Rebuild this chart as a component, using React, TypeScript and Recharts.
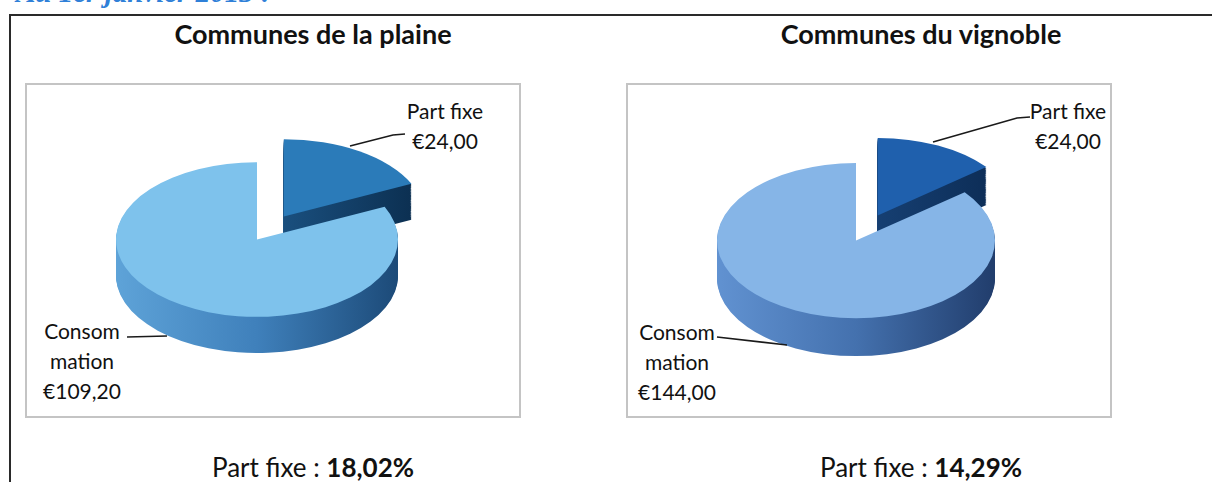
import React from "react";
import { PieChart, Pie, Cell } from "recharts";

// Slice names and values
const sliceNames = ["Part fixe", "Consommation"];
const plaineValues = [24.0, 109.2];
const vignobleValues = [24.0, 144.0];

// Labels as they wrap in the picture
const plaineLabelLines = [["Part fixe"], ["Consom", "mation"]];
const vignobleLabelLines = [["Part fixe"], ["Consom", "mation"]];

const chartTitles = ["Communes de la plaine", "Communes du vignoble"];

const FONT = "Lato, 'Open Sans', sans-serif";

const euro = (v: number) => "€" + v.toFixed(2).replace(".", ",");
const pct = (v: number) => (v * 100).toFixed(2).replace(".", ",") + "%";

type ChartCfg = {
  id: string;
  title: string;
  values: number[];
  labelLines: string[][];
  topColors: string[];
  sideGrads: string[][];
  boxLeft: number;
  boxWidth: number;
  textCentre: number;
  cxS: number; // screen centre of top face
  cyS: number;
  radius: number;
  squash: number;
  thickness: number; // screen px
  explode: number; // unscaled px
  pfLabel: { cx: number; top: number };
  coLabel: { cx: number; top: number };
  pfLine: string;
  coLine: string;
};

const charts: ChartCfg[] = [
  {
    id: "plaine",
    title: chartTitles[0],
    values: plaineValues,
    labelLines: plaineLabelLines,
    topColors: ["#2b7bb9", "#7ec2ec"],
    sideGrads: [
      ["#1a4f7e", "#0c3052"],
      ["#5ea3d8", "#3f80bb", "#1c4a78"],
    ],
    boxLeft: 25,
    boxWidth: 496,
    textCentre: 313,
    cxS: 257,
    cyS: 240,
    radius: 141,
    squash: 0.548,
    thickness: 36,
    explode: 50,
    pfLabel: { cx: 445, top: 96 },
    coLabel: { cx: 82, top: 316 },
    pfLine: "405,134 393,135 350,146",
    coLine: "127,337 167,336",
  },
  {
    id: "vignoble",
    title: chartTitles[1],
    values: vignobleValues,
    labelLines: vignobleLabelLines,
    topColors: ["#1f60ad", "#86b5e7"],
    sideGrads: [
      ["#163f72", "#0d2e58"],
      ["#6192d1", "#4471ae", "#213d6c"],
    ],
    boxLeft: 626,
    boxWidth: 486,
    textCentre: 921,
    cxS: 856,
    cyS: 241,
    radius: 139,
    squash: 0.558,
    thickness: 38,
    explode: 50,
    pfLabel: { cx: 1068, top: 96 },
    coLabel: { cx: 677, top: 317 },
    pfLine: "1030,117 1017,118 933,142",
    coLine: "717,337 787,345",
  },
];

const W = 380;
const H = 440;
const CY_U = 200;
const STEP = 2;

function Pie3D({ cfg }: { cfg: ChartCfg }) {
  const rows = sliceNames.map((name, i) => ({ name, value: cfg.values[i] }));
  const total = cfg.values.reduce((a, b) => a + b, 0);
  const share = cfg.values[0] / total;
  const mid = ((90 - (share * 360) / 2) * Math.PI) / 180;
  const dx = cfg.explode * Math.cos(mid);
  const dy = -cfg.explode * Math.sin(mid);
  const depthU = cfg.thickness / cfg.squash;
  const n = Math.round(depthU / STEP);
  const layers = Array.from({ length: n }, (_, i) => (n - i) * STEP);

  const group = (slice: number, ox: number, oy: number) => {
    const pies = layers.map((d) => (
      <Pie
        key={`s${slice}-${d}`}
        data={rows}
        dataKey="value"
        cx={W / 2 + ox}
        cy={CY_U + oy + d}
        outerRadius={cfg.radius}
        startAngle={90}
        endAngle={-270}
        stroke="none"
        isAnimationActive={false}
      >
        {rows.map((r, j) => (
          <Cell key={r.name} fill={j === slice ? `url(#${cfg.id}-side${slice})` : "none"} />
        ))}
      </Pie>
    ));
    pies.push(
      <Pie
        key={`t${slice}`}
        data={rows}
        dataKey="value"
        cx={W / 2 + ox}
        cy={CY_U + oy}
        outerRadius={cfg.radius}
        startAngle={90}
        endAngle={-270}
        stroke="none"
        isAnimationActive={false}
      >
        {rows.map((r, j) => (
          <Cell key={r.name} fill={j === slice ? cfg.topColors[slice] : "none"} />
        ))}
      </Pie>
    );
    return pies;
  };

  return (
    <div
      style={{
        position: "absolute",
        left: cfg.cxS - W / 2,
        top: cfg.cyS - CY_U * cfg.squash,
        width: W,
        height: H,
        transform: `scaleY(${cfg.squash})`,
        transformOrigin: "top left",
      }}
    >
      <PieChart width={W} height={H} margin={{ top: 0, right: 0, bottom: 0, left: 0 }}>
        {group(0, dx, dy)}
        {group(1, 0, 0)}
      </PieChart>
    </div>
  );
}

function LabelBlock({ lines, cx, top }: { lines: string[]; cx: number; top: number }) {
  return (
    <div
      style={{
        position: "absolute",
        left: cx - 60,
        top,
        width: 120,
        textAlign: "center",
        fontFamily: FONT,
        fontSize: 21,
        lineHeight: "30px",
        color: "#111",
      }}
    >
      {lines.map((l) => (
        <div key={l}>{l}</div>
      ))}
    </div>
  );
}

export default function App() {
  return (
    <div
      style={{
        position: "absolute",
        left: 0,
        top: 0,
        width: 1212,
        height: 482,
        background: "#fff",
        overflow: "hidden",
        fontFamily: FONT,
      }}
    >
      <svg width={0} height={0} style={{ position: "absolute" }}>
        <defs>
          {charts.map((c) =>
            c.sideGrads.map((stops, s) => (
              <linearGradient key={`${c.id}-${s}`} id={`${c.id}-side${s}`} x1="0" y1="0" x2="1" y2="0">
                {stops.map((col, k) => (
                  <stop key={k} offset={stops.length === 1 ? 0 : k / (stops.length - 1)} stopColor={col} />
                ))}
              </linearGradient>
            ))
          )}
        </defs>
      </svg>

      {/* cut-off heading of the page */}
      <div
        style={{
          position: "absolute",
          left: 16,
          top: -25,
          fontFamily: "'Liberation Serif', serif",
          fontStyle: "italic",
          fontWeight: 700,
          fontSize: 29,
          lineHeight: "34px",
          color: "#2f80d8",
          whiteSpace: "nowrap",
        }}
      >
        Au 1er janvier 2013 :
      </div>

      {/* outer frame */}
      <div style={{ position: "absolute", left: 9, top: 14, width: 1203, height: 2, background: "#2a2a2a" }} />
      <div style={{ position: "absolute", left: 9, top: 14, width: 2, height: 468, background: "#2a2a2a" }} />

      {charts.map((c) => {
        const total = c.values.reduce((a, b) => a + b, 0);
        return (
          <React.Fragment key={c.id}>
            <div
              style={{
                position: "absolute",
                left: c.textCentre - 250,
                width: 500,
                top: 18,
                textAlign: "center",
                fontWeight: 700,
                fontSize: 27,
                lineHeight: "32px",
                color: "#111",
              }}
            >
              {c.title}
            </div>
            <div
              style={{
                position: "absolute",
                left: c.boxLeft,
                top: 83,
                width: c.boxWidth,
                height: 335,
                border: "2px solid #c4c4c4",
                boxSizing: "border-box",
              }}
            />
            <Pie3D cfg={c} />
            <svg
              width={1212}
              height={482}
              style={{ position: "absolute", left: 0, top: 0, pointerEvents: "none" }}
            >
              <polyline points={c.pfLine} fill="none" stroke="#1a1a1a" strokeWidth={1.6} />
              <polyline points={c.coLine} fill="none" stroke="#1a1a1a" strokeWidth={1.6} />
            </svg>
            <LabelBlock
              lines={[...c.labelLines[0], euro(c.values[0])]}
              cx={c.pfLabel.cx}
              top={c.pfLabel.top}
            />
            <LabelBlock
              lines={[...c.labelLines[1], euro(c.values[1])]}
              cx={c.coLabel.cx}
              top={c.coLabel.top}
            />
            <div
              style={{
                position: "absolute",
                left: c.textCentre - 250,
                width: 500,
                top: 451,
                textAlign: "center",
                fontSize: 26,
                lineHeight: "32px",
                color: "#111",
                whiteSpace: "nowrap",
              }}
            >
              {sliceNames[0]} : <b>{pct(c.values[0] / total)}</b>
            </div>
          </React.Fragment>
        );
      })}
    </div>
  );
}
